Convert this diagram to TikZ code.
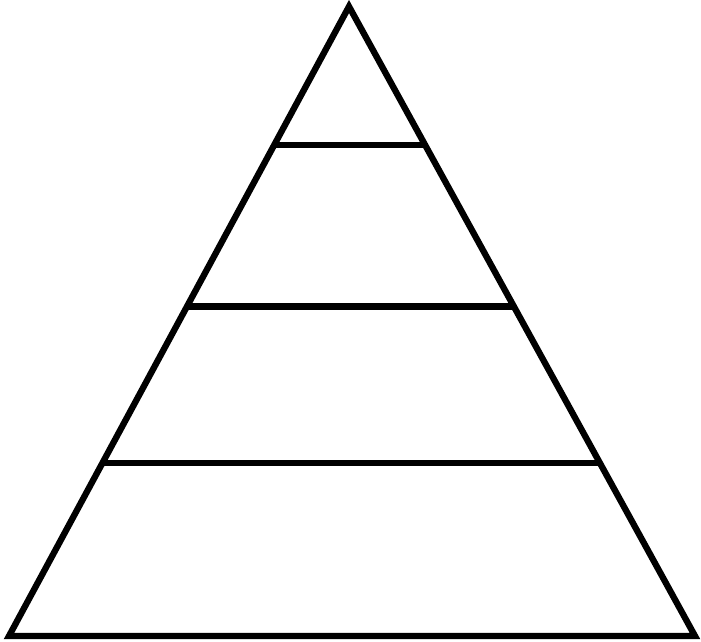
\documentclass[tikz,border=0pt]{standalone}
\usetikzlibrary{calc}
\begin{document}
\begin{tikzpicture}[x=1pt,y=-1pt,line width=6.3pt,
  edge/.style={draw=black,line join=miter},
  band/.style={draw=black}]
\useasboundingbox (0,0) rectangle (701,641);
\coordinate (A) at (349,6.5);
\coordinate (L) at (9,636);
\coordinate (R) at (695,636);
\draw[edge] (A) -- (L) -- (R) -- cycle;
\foreach \y/\n in {145/a,306.5/b,463/c}{
  \coordinate (\n l) at ($(A)!{(\y-6.5)/629.5}!(L)$);
  \coordinate (\n r) at ($(A)!{(\y-6.5)/629.5}!(R)$);
  \draw[band] (\n l) -- (\n r);
}
\end{tikzpicture}
\end{document}
